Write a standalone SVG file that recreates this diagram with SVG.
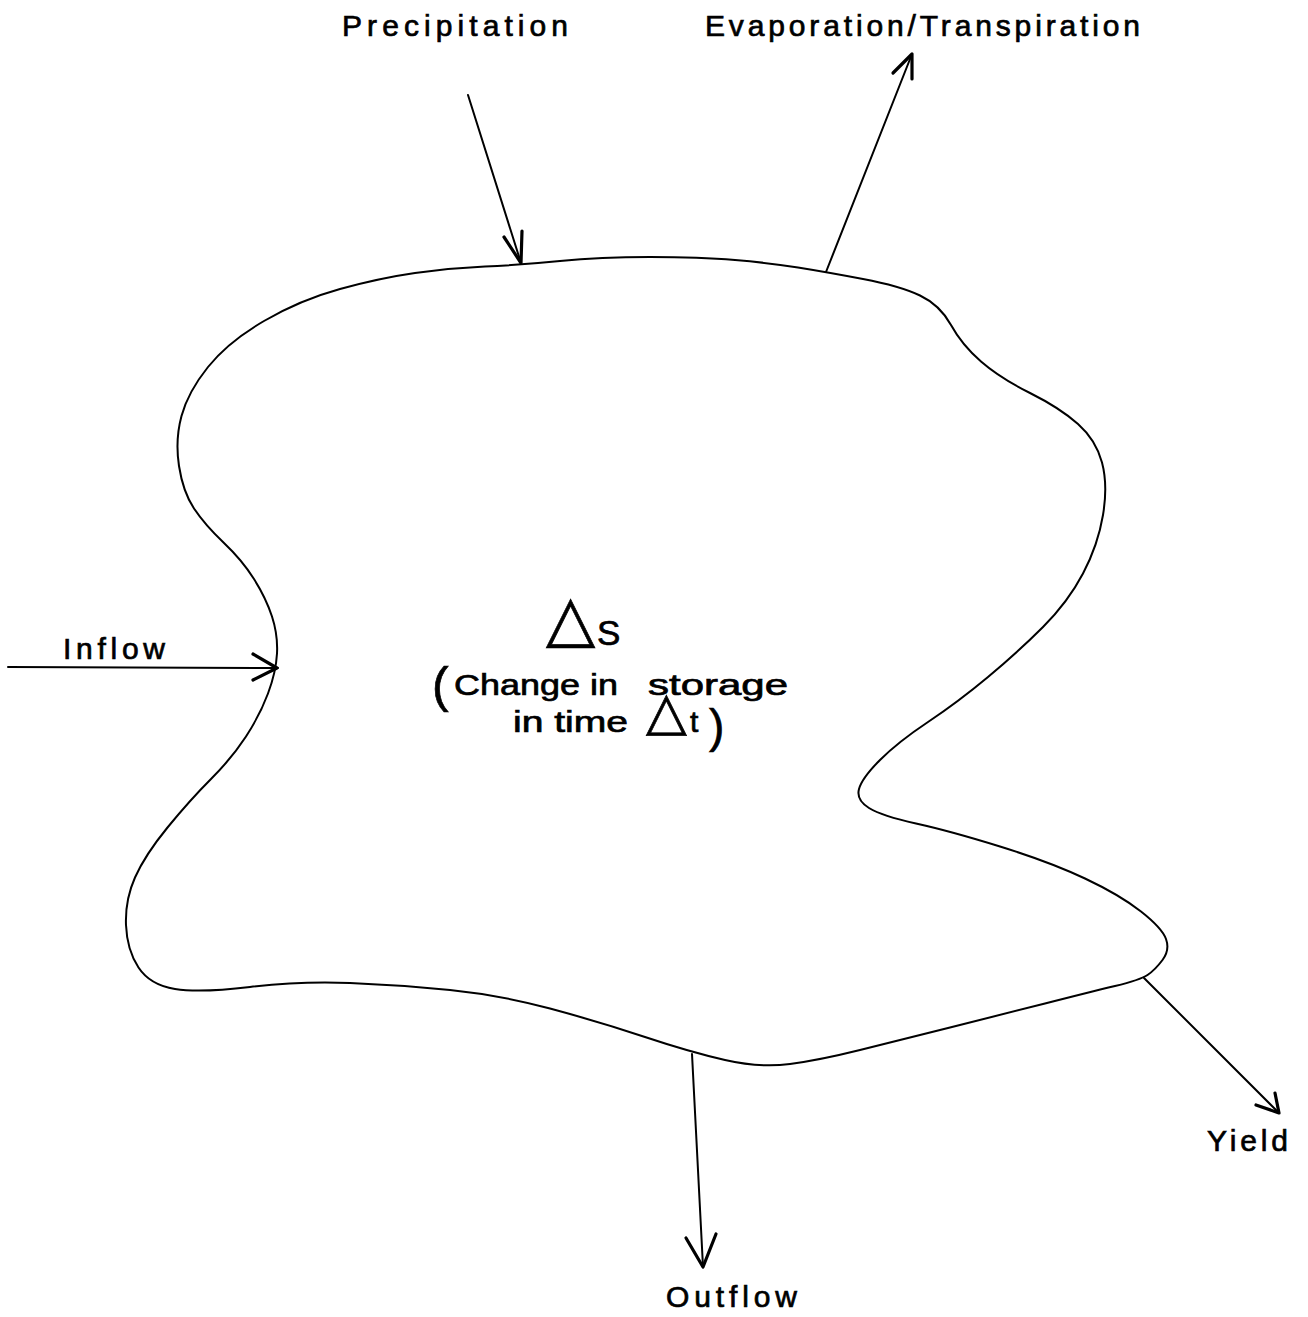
<svg xmlns="http://www.w3.org/2000/svg" width="1308" height="1317" viewBox="0 0 1308 1317">
<style>
.lbl{font-family:"Liberation Sans","DejaVu Sans",sans-serif;font-size:30px;fill:#000;stroke:#000;stroke-width:0.7;}
.sym{font-family:"DejaVu Sans",sans-serif;}
.shaft{stroke:#000;stroke-width:2;fill:none;stroke-linecap:round;}
.head{stroke:#000;stroke-width:3.2;fill:none;stroke-linecap:round;stroke-linejoin:round;}
.blob{stroke:#000;stroke-width:2;fill:none;stroke-linejoin:round;}
</style>
<rect width="1308" height="1317" fill="#fff"/>
<g id="storage">
<path class="blob" d="M560,261 Q600,257 650,257 Q700,257 735,260 Q770,263 798,267.5 Q826,272 863,279 Q900,286 920,295.5 Q940,305 951,325 Q962,345 981,361.5 Q1000,378 1030,393 Q1060,408 1078,424 Q1096,440 1102,462.5 Q1108,485 1103,515 Q1098,545 1083,573.5 Q1068,602 1043,627 Q1018,652 988,677 Q958,702 928,722 Q898,742 880,760 Q862,778 859,789 Q856,800 869,808 Q882,816 916,823.5 Q950,831 1000,846.5 Q1050,862 1085,878.5 Q1120,895 1141,911.5 Q1162,928 1166,939 Q1170,950 1162.5,960 Q1155,970 1147.5,975 Q1140,980 1115,986 Q1090,992 1045,1003.5 Q1000,1015 950,1027.5 Q900,1040 860,1050 Q820,1060 790,1064 Q760,1068 725,1060 Q690,1052 645,1037 Q600,1022 550,1008.5 Q500,995 450,990 Q400,985 350,983 Q300,981 250,987 Q200,993 175,989 Q150,985 138.5,967.5 Q127,950 126,925 Q125,900 135,877.5 Q145,855 167.5,827.5 Q190,800 211,779 Q232,758 246,736.5 Q260,715 268,693.5 Q276,672 277,653.5 Q278,635 272,616.5 Q266,598 254,579 Q242,560 223.5,542.5 Q205,525 194,508.5 Q183,492 179,466 Q175,440 181.5,416 Q188,392 208,367 Q228,342 264,321 Q300,300 340,289 Q380,278 415,273 Q450,268 485,266.5 Q520,265 560,261 Z"/>
<text class="lbl sym" x="546" y="640" style="font-size:64px">△</text>
<text class="lbl" x="597" y="645" style="font-size:35px">S</text>
<text class="lbl" x="432" y="702" style="font-size:50px">(</text>
<text class="lbl" x="454" y="695" textLength="164" lengthAdjust="spacingAndGlyphs">Change in</text>
<text class="lbl" x="648" y="695" textLength="140" lengthAdjust="spacingAndGlyphs">storage</text>
<text class="lbl" x="513" y="732" textLength="115" lengthAdjust="spacingAndGlyphs">in time</text>
<text class="lbl sym" x="646" y="729" style="font-size:53px">△</text>
<text class="lbl" x="690" y="732">t</text>
<text class="lbl" x="709" y="742" style="font-size:46px">)</text>
</g>
<g id="precipitation">
<text class="lbl" x="342" y="36" textLength="226" lengthAdjust="spacing">Precipitation</text>
</g>
<g id="evaporation">
<text class="lbl" x="705" y="36" textLength="435" lengthAdjust="spacing">Evaporation/Transpiration</text>
</g>
<g id="inflow">
<text class="lbl" x="63" y="659" textLength="102" lengthAdjust="spacing">Inflow</text>
</g>
<g id="outflow">
<text class="lbl" x="666" y="1307" textLength="131" lengthAdjust="spacing">Outflow</text>
</g>
<g id="yield">
<text class="lbl" x="1207" y="1151" textLength="81" lengthAdjust="spacing">Yield</text>
</g>
<g id="connectors">
<line class="shaft" x1="468" y1="95" x2="521" y2="263"/>
<polyline class="head" points="504,237 521,263 522,231"/>
<line class="shaft" x1="826" y1="272" x2="912" y2="54"/>
<polyline class="head" points="893,73 912,54 912,79"/>
<line class="shaft" x1="8" y1="667" x2="278" y2="668"/>
<polyline class="head" points="253,654 277,668 253,680"/>
<line class="shaft" x1="692" y1="1054" x2="703" y2="1267"/>
<polyline class="head" points="686,1238 703,1267 716,1234"/>
<line class="shaft" x1="1144" y1="978" x2="1279" y2="1113"/>
<polyline class="head" points="1275,1093 1279,1113 1256,1105"/>
</g>
</svg>
